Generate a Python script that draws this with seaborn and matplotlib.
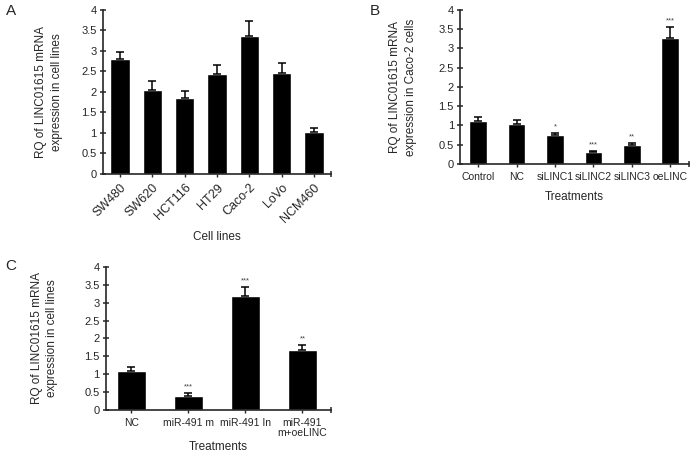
import matplotlib
matplotlib.use("Agg")
import matplotlib.pyplot as plt
import pandas as pd
import seaborn as sns

sns.set_style("ticks")
plt.rcParams["font.family"] = ["Liberation Sans", "DejaVu Sans"]

# ---- data ----
cell_lines = ["SW480", "SW620", "HCT116", "HT29", "Caco-2", "LoVo", "NCM460"]
rq_cells = [2.80, 2.05, 1.85, 2.43, 3.37, 2.47, 1.03]
err_cells = [0.17, 0.22, 0.17, 0.22, 0.35, 0.24, 0.10]

treat_b = ["Control", "NC", "siLINC1", "siLINC2", "siLINC3", "oeLINC"]
rq_b = [1.12, 1.04, 0.76, 0.30, 0.49, 3.27]
err_b = [0.10, 0.11, 0.05, 0.03, 0.05, 0.29]
stars_b = ["", "", "*", "***", "**", "***"]

treat_c = ["NC", "miR-491 m", "miR-491 In", "miR-491\nm+oeLINC"]
rq_c = [1.08, 0.40, 3.20, 1.67]
err_c = [0.13, 0.08, 0.25, 0.16]
stars_c = ["", "***", "***", "**"]

YTICKS = [0, 0.5, 1, 1.5, 2, 2.5, 3, 3.5, 4]
YLABELS = ["0", "0.5", "1", "1.5", "2", "2.5", "3", "3.5", "4"]


def bar_panel(ax, cats, vals, errs, width, xlim, stars=None, rot=0, tick_fs=7.5):
    df = pd.DataFrame({"cat": cats, "val": vals})
    sns.barplot(data=df, x="cat", y="val", color="black", width=width,
                saturation=1, errorbar=None, ax=ax)
    pos = list(range(len(cats)))
    ax.errorbar(pos, vals, yerr=[[0] * len(errs), errs], fmt="none",
                ecolor="black", elinewidth=1.1, capsize=3, capthick=1.1)
    if stars:
        for p, v, e, s in zip(pos, vals, errs, stars):
            if s:
                ax.text(p, v + e + 0.07, s, ha="center", va="bottom",
                        fontsize=5.5, color="0.25")
    ax.set_xlim(*xlim)
    ax.set_ylim(0, 4)
    ax.set_yticks(YTICKS)
    ax.set_yticklabels(YLABELS, fontsize=8)
    sns.despine(ax=ax)
    ax.spines["left"].set_linewidth(1.2)
    ax.spines["bottom"].set_linewidth(1.2)
    ax.tick_params(axis="y", direction="inout", length=5, width=1.1, pad=2)
    ax.tick_params(axis="x", direction="out", length=2.5, width=1.0, pad=3)
    ax.set_xticks([xlim[1]], minor=True)
    ax.tick_params(axis="x", which="minor", direction="inout", length=5, width=1.1)
    ax.set_xticks(pos)
    if rot:
        ax.set_xticklabels(cats, rotation=rot, ha="right", va="top",
                           rotation_mode="anchor", fontsize=tick_fs)
    else:
        ax.set_xticklabels(cats, fontsize=tick_fs, linespacing=1.0)


fig = plt.figure(figsize=(6.91, 4.54), dpi=100)

# panel A
axA = fig.add_axes([0.149, 0.617, 0.330, 0.361])
bar_panel(axA, cell_lines, rq_cells, err_cells, 0.6, (-0.53, 6.53), rot=45, tick_fs=9)
axA.set_ylabel("RQ of LINC01615 mRNA\nexpression in cell lines", fontsize=8.5,
               linespacing=1.4)
axA.yaxis.set_label_coords(-0.175, 0.5)
axA.set_xlabel("Cell lines", fontsize=8.5)
axA.xaxis.set_label_coords(0.5, -0.35)

# panel B
axB = fig.add_axes([0.666, 0.639, 0.331, 0.339])
bar_panel(axB, treat_b, rq_b, err_b, 0.46, (-0.47, 5.49), stars=stars_b, tick_fs=7.5)
axB.set_ylabel("RQ of LINC01615 mRNA\nexpression in Caco-2 cells", fontsize=8.5,
               linespacing=1.4)
axB.yaxis.set_label_coords(-0.19, 0.5)
axB.set_xlabel("Treatments", fontsize=8.5)
axB.xaxis.set_label_coords(0.5, -0.175)

# panel C
axC = fig.add_axes([0.153, 0.097, 0.326, 0.315])
bar_panel(axC, treat_c, rq_c, err_c, 0.5, (-0.45, 3.5), stars=stars_c, tick_fs=7.5)
axC.set_ylabel("RQ of LINC01615 mRNA\nexpression in cell lines", fontsize=8.5,
               linespacing=1.4)
axC.yaxis.set_label_coords(-0.21, 0.5)
axC.set_xlabel("Treatments", fontsize=8.5)
axC.xaxis.set_label_coords(0.5, -0.215)

fig.text(0.008, 0.975, "A", fontsize=11, va="center")
fig.text(0.535, 0.975, "B", fontsize=11, va="center")
fig.text(0.008, 0.414, "C", fontsize=11, va="center")

fig.savefig("out.png", dpi=100, facecolor="white")
